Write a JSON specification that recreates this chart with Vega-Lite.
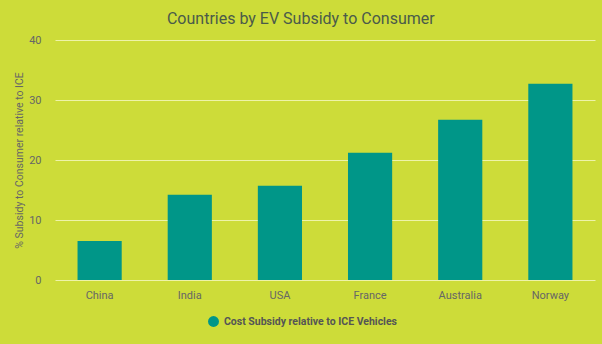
{
  "$schema": "https://vega.github.io/schema/vega-lite/v6.json",
  "autosize": "none",
  "width": 540,
  "height": 240,
  "padding": {"left": 55, "top": 40, "right": 7, "bottom": 64},
  "background": "#cddc39",
  "config": {
    "font": "Roboto",
    "view": {"stroke": null}
  },
  "title": {
    "text": "Countries by EV Subsidy to Consumer",
    "fontSize": 16,
    "fontWeight": "normal",
    "color": "#4a5a4a",
    "anchor": "middle",
    "frame": "bounds",
    "offset": 7,
    "dx": -4
  },
  "data": {
    "values": [
      {"country": "China", "subsidy": 6.5, "series": "Cost Subsidy relative to ICE Vehicles"},
      {"country": "India", "subsidy": 14.2, "series": "Cost Subsidy relative to ICE Vehicles"},
      {"country": "USA", "subsidy": 15.7, "series": "Cost Subsidy relative to ICE Vehicles"},
      {"country": "France", "subsidy": 21.2, "series": "Cost Subsidy relative to ICE Vehicles"},
      {"country": "Australia", "subsidy": 26.7, "series": "Cost Subsidy relative to ICE Vehicles"},
      {"country": "Norway", "subsidy": 32.7, "series": "Cost Subsidy relative to ICE Vehicles"}
    ]
  },
  "mark": {"type": "bar"},
  "encoding": {
    "x": {
      "field": "country",
      "type": "nominal",
      "sort": null,
      "scale": {"paddingInner": 0.51, "paddingOuter": 0.25},
      "axis": {
        "title": null,
        "labelAngle": 0,
        "labelFontSize": 11,
        "labelColor": "#666",
        "labelPadding": 9,
        "ticks": false,
        "domain": false
      }
    },
    "y": {
      "field": "subsidy",
      "type": "quantitative",
      "scale": {"domain": [0, 40]},
      "axis": {
        "title": "% Subsidy to Consumer relative to ICE",
        "titleFontSize": 10.5,
        "titleFontWeight": "normal",
        "titleColor": "#666",
        "titlePadding": 4,
        "values": [0, 10, 20, 30, 40],
        "labelOverlap": false,
        "labelFontSize": 11,
        "labelColor": "#666",
        "labelPadding": 14,
        "ticks": false,
        "domain": false,
        "gridColor": "#eef3a8",
        "gridWidth": 1.2
      }
    },
    "color": {
      "field": "series",
      "type": "nominal",
      "scale": {"range": ["#009688"]},
      "legend": {
        "title": null,
        "orient": "none",
        "legendX": 152,
        "legendY": 275,
        "symbolType": "circle",
        "symbolSize": 120,
        "labelFontSize": 10.5,
        "labelFontWeight": "bold",
        "labelColor": "#555",
        "labelLimit": 400
      }
    }
  }
}
